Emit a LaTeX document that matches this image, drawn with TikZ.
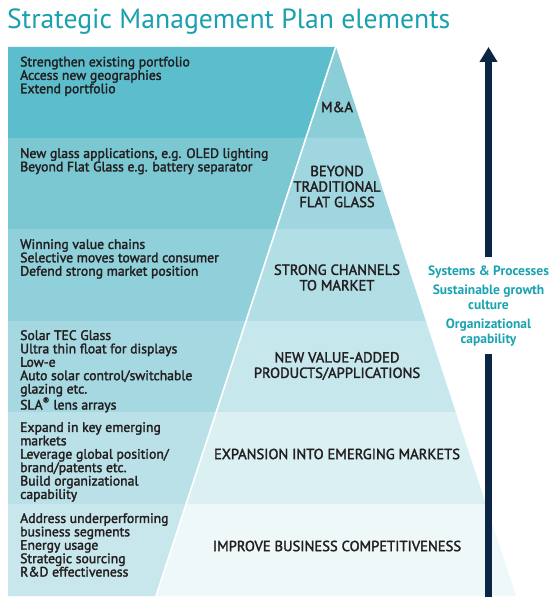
\documentclass[tikz,border=0pt]{standalone}
\usepackage{fontspec}
\setmainfont{PT Sans}
\newfontfamily\medfont[FakeBold=2]{PT Sans}
\usetikzlibrary{arrows.meta}
\definecolor{titleteal}{HTML}{1AA0AE}
\definecolor{sideteal}{HTML}{1AA3B1}
\definecolor{navy}{HTML}{0B2545}
\definecolor{txt}{HTML}{231F20}
\definecolor{lA}{HTML}{5CBECC}\definecolor{pA}{HTML}{8CCED8}
\definecolor{lB}{HTML}{7BC8D3}\definecolor{pB}{HTML}{A0D6DF}
\definecolor{lC}{HTML}{8FD0DA}\definecolor{pC}{HTML}{B2DEE5}
\definecolor{lD}{HTML}{A5D8E0}\definecolor{pD}{HTML}{C6E7EC}
\definecolor{lE}{HTML}{B9E1E7}\definecolor{pE}{HTML}{DAF0F3}
\definecolor{lF}{HTML}{C8E7EC}\definecolor{pF}{HTML}{EEF8F9}
\tikzset{
  lefttext/.style={anchor=north west,inner sep=0pt,align=left,text=txt,
    font=\medfont\fontsize{13.7}{13.4}\selectfont},
  pyrlabel/.style={inner sep=0pt,align=center,text=txt,
    font=\medfont\fontsize{14.6}{15.5}\selectfont},
  sidetext/.style={inner sep=0pt,align=center,text=sideteal,
    font=\bfseries\fontsize{13.5}{14.5}\selectfont},
  shaft/.style={draw=navy,line width=7pt},
}
\begin{document}
\begin{tikzpicture}[x=1pt,y=-1pt]
\useasboundingbox (0,0) rectangle (555,612);
\fill[white] (0,0) rectangle (555,612);
% title
\node[anchor=west,inner sep=0pt,text=titleteal,font=\fontsize{27.7}{32}\selectfont] (title) at (7,22) {Strategic Management Plan elements};
% left panels
\fill[lA] (8,47) -- (336,47) -- (306.16,138) -- (8,138) -- cycle;
\fill[lB] (8,138) -- (306.16,138) -- (276.33,229) -- (8,229) -- cycle;
\fill[lC] (8,229) -- (276.33,229) -- (246.16,321) -- (8,321) -- cycle;
\fill[lD] (8,321) -- (246.16,321) -- (216.33,412) -- (8,412) -- cycle;
\fill[lE] (8,412) -- (216.33,412) -- (186.16,504) -- (8,504) -- cycle;
\fill[lF] (8,504) -- (186.16,504) -- (156,596) -- (8,596) -- cycle;
% pyramid bands
\fill[pA] (336,47) -- (365.84,138) -- (306.16,138) -- cycle;
\fill[pB] (306.16,138) -- (365.84,138) -- (395.67,229) -- (276.33,229) -- cycle;
\fill[pC] (276.33,229) -- (395.67,229) -- (425.84,321) -- (246.16,321) -- cycle;
\fill[pD] (246.16,321) -- (425.84,321) -- (455.67,412) -- (216.33,412) -- cycle;
\fill[pE] (216.33,412) -- (455.67,412) -- (485.84,504) -- (186.16,504) -- cycle;
\fill[pF] (186.16,504) -- (485.84,504) -- (516,596) -- (156,596) -- cycle;
\draw[white,line width=1.6pt] (336,46) -- (155.7,597);
% left texts
\node[lefttext] (tA) at (20,56.5) {Strengthen existing portfolio\\Access new geographies\\Extend portfolio};
\node[lefttext] (tB) at (20,148) {New glass applications, e.g. OLED lighting\\Beyond Flat Glass e.g. battery separator};
\node[lefttext] (tC) at (20,239) {Winning value chains\\Selective moves toward consumer\\Defend strong market position};
\node[lefttext] (tD) at (20,330) {Solar TEC Glass\\Ultra thin float for displays\\Low-e\\Auto solar control/switchable\\glazing etc.\\SLA\textsuperscript{®} lens arrays};
\node[lefttext] (tE) at (20,422) {Expand in key emerging\\markets\\Leverage global position/\\brand/patents etc.\\Build organizational\\capability};
\node[lefttext] (tF) at (20,513) {Address underperforming\\business segments\\Energy usage\\Strategic sourcing\\R\&D effectiveness};
% pyramid labels
\node[pyrlabel] (mA) at (337,107) {M\&A};
\node[pyrlabel] (mB) at (337,186.5) {BEYOND\\TRADITIONAL\\FLAT GLASS};
\node[pyrlabel] (mC) at (337,277.5) {STRONG CHANNELS\\TO MARKET};
\node[pyrlabel] (mD) at (337,366) {NEW VALUE-ADDED\\PRODUCTS/APPLICATIONS};
\node[pyrlabel] (mE) at (337,454) {EXPANSION INTO EMERGING MARKETS};
\node[pyrlabel] (mF) at (337,546) {IMPROVE BUSINESS COMPETITIVENESS};
% side texts
\node[sidetext] (s1) at (488.5,272) {Systems \& Processes};
\node[sidetext] (s2) at (488.5,297.5) {Sustainable growth\\culture};
\node[sidetext] (s3) at (488.5,332.5) {Organizational\\capability};
% arrow
\coordinate (atip) at (488.5,47);
\coordinate (atop) at (488.5,257);
\coordinate (abot) at (488.5,354);
\coordinate (abase) at (488.5,597);
\draw[shaft,-{Triangle[width=17pt,length=15pt]}] (atop) -- (atip);
\draw[shaft] (abase) -- (abot);
\end{tikzpicture}
\end{document}
